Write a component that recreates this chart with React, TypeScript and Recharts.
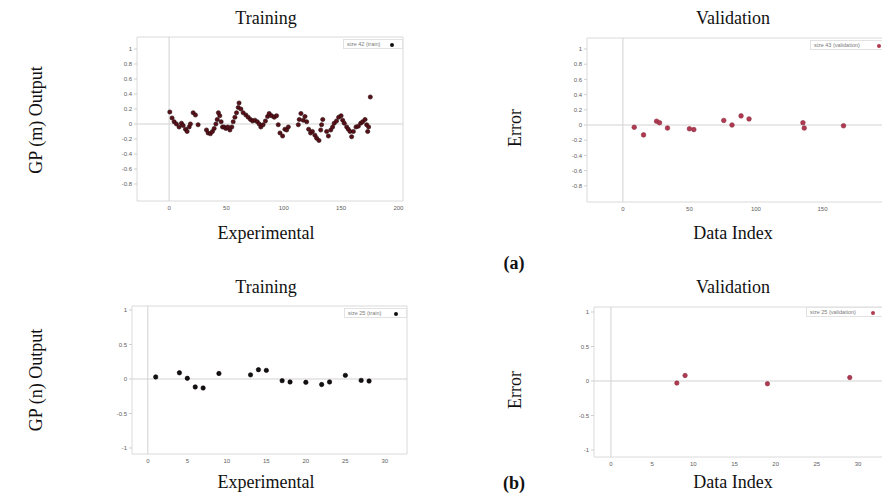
import React from 'react';
import { ScatterChart, Scatter, XAxis, YAxis, ReferenceLine, ReferenceArea } from 'recharts';

// (a) GP (m) – training
const trainMX = [0.6, 2.6, 4.4, 6.4, 8.7, 10.8, 12.2, 14.3, 15.7, 17.5, 18.6, 21, 23, 25.3, 32.6, 34, 36, 37.8, 39.3, 40.8, 42, 43, 44.2, 45.4, 46.6, 48, 49.5, 51.2, 53, 54.7, 55.9, 57.4, 58.8, 60.3, 61, 62.6, 64.6, 67, 69, 71, 72.8, 74.8, 76.9, 78.6, 80, 82, 84, 85.9, 87.3, 89.4, 91.7, 93.7, 95.2, 96.7, 99, 101, 102.5, 104, 112.7, 113.5, 115, 117, 118.5, 120, 121.7, 123.4, 125, 127.2, 128.7, 130.7, 132.2, 133, 134, 137.4, 138.9, 141, 142.6, 144, 146, 147.9, 150, 151.4, 152.8, 154.9, 156.3, 157.8, 159.2, 160.7, 163, 165, 167.1, 168.8, 170.9, 172.3, 173.2, 174, 175.5];
const trainMY = [0.16, 0.08, 0.03, 0, -0.04, 0.01, -0.02, -0.07, -0.1, -0.04, 0, 0.15, 0.12, -0.01, -0.08, -0.12, -0.13, -0.1, -0.06, 0, 0.06, 0.15, 0.11, 0.03, -0.04, -0.04, -0.06, -0.04, -0.08, -0.04, 0.03, 0.09, 0.15, 0.22, 0.28, 0.2, 0.15, 0.12, 0.09, 0.06, 0.04, 0.05, 0.03, 0, -0.04, -0.01, 0.04, 0.1, 0.14, 0.11, 0.09, 0.11, -0.01, -0.12, -0.16, -0.07, -0.08, -0.04, -0.01, 0.06, 0.14, 0.05, 0.1, 0.03, -0.07, -0.12, -0.1, -0.15, -0.19, -0.22, -0.08, -0.01, 0.06, -0.1, -0.16, -0.08, -0.04, 0.01, 0.04, 0.09, 0.11, 0.05, 0.01, -0.04, -0.07, -0.1, -0.17, -0.1, -0.04, -0.03, 0.01, 0.03, 0.06, -0.01, -0.1, -0.04, 0.36];

// (a) GP (m) – validation
const validMX = [8.5, 15.5, 25.3, 27.5, 33.5, 50, 53.3, 75.8, 82, 88.8, 94.8, 135.3, 136.3, 165.8];
const validMY = [-0.03, -0.13, 0.05, 0.03, -0.04, -0.05, -0.06, 0.06, 0, 0.12, 0.08, 0.03, -0.04, -0.01];

// (b) GP (n) – training
const trainNX = [1, 4, 5, 6, 7, 9, 13, 14, 15, 17, 18, 20, 22, 23, 25, 27, 28];
const trainNY = [0.03, 0.09, 0.01, -0.115, -0.13, 0.08, 0.06, 0.135, 0.125, -0.024, -0.043, -0.048, -0.08, -0.043, 0.053, -0.02, -0.03];

// (b) GP (n) – validation
const validNX = [8, 9, 19, 29];
const validNY = [-0.03, 0.08, -0.04, 0.05];

const ticksA_X = [0, 50, 100, 150, 200];
const ticksA_XValid = [0, 50, 100, 150];
const ticksA_Y = [-0.8, -0.6, -0.4, -0.2, 0, 0.2, 0.4, 0.6, 0.8, 1];
const ticksB_X = [0, 5, 10, 15, 20, 25, 30];
const ticksB_Y = [-1, -0.5, 0, 0.5, 1];

const zip = (xs: number[], ys: number[]) => xs.map((x, i) => ({ x, y: ys[i] }));

const TRAIN_M = '#5a1019';
const TRAIN_N = '#151012';
const VALID = '#b03a52';
const SERIF = '"Liberation Serif", "Times New Roman", serif';
const SANS = '"Liberation Sans", Arial, sans-serif';

interface PanelProps {
  frame: { x: number; y: number; w: number; h: number };
  xDomain: [number, number];
  yDomain: [number, number];
  xTicks: number[];
  yTicks: number[];
  data: { x: number; y: number }[];
  fill: string;
  stroke: string;
  r: number;
}

const Panel: React.FC<PanelProps> = ({ frame, xDomain, yDomain, xTicks, yTicks, data, fill, stroke, r }) => {
  const tick = { fontSize: 6, fill: '#5e5e5e', fontFamily: SANS };
  return (
    <div style={{ position: 'absolute', left: frame.x - 40, top: frame.y - 5 }}>
      <ScatterChart width={frame.w + 45} height={frame.h + 25} margin={{ top: 5, right: 5, left: 0, bottom: 0 }}>
        <ReferenceArea
          x1={xDomain[0]}
          x2={xDomain[1]}
          y1={yDomain[0]}
          y2={yDomain[1]}
          fill="none"
          stroke="#dadada"
          strokeWidth={1}
          fillOpacity={0}
        />
        <ReferenceLine x={0} stroke="#d2d2d2" />
        <ReferenceLine y={0} stroke="#d2d2d2" />
        <XAxis
          type="number"
          dataKey="x"
          domain={xDomain}
          ticks={xTicks}
          allowDataOverflow
          height={20}
          axisLine={false}
          tickLine={false}
          tickSize={3}
          tickMargin={2}
          tick={tick}
        />
        <YAxis
          type="number"
          dataKey="y"
          domain={yDomain}
          ticks={yTicks}
          allowDataOverflow
          width={40}
          axisLine={false}
          tickLine={{ stroke: '#cfcfcf' }}
          tickSize={3}
          tickMargin={2}
          tick={tick}
        />
        <Scatter
          data={data}
          isAnimationActive={false}
          shape={(p: any) => <circle cx={p.cx} cy={p.cy} r={r} fill={fill} stroke={stroke} strokeWidth={0.6} />}
        />
      </ScatterChart>
    </div>
  );
};

const LegendBox: React.FC<{ x: number; y: number; w: number; dotRight: number; label: string; color: string }> = ({ x, y, w, dotRight, label, color }) => (
  <div
    style={{
      position: 'absolute',
      left: x,
      top: y,
      width: w,
      height: 10,
      border: '1px solid #e2e2e2',
      background: '#fff',
      fontFamily: SANS,
      fontSize: 5.5,
      color: '#7a7a7a',
      display: 'flex',
      alignItems: 'center',
      boxSizing: 'border-box',
      paddingLeft: 3,
    }}
  >
    <span>{label}</span>
    <span style={{ position: 'absolute', right: dotRight, top: 2.5, width: 4, height: 4, borderRadius: 2, background: color }} />
  </div>
);

const Label: React.FC<{ x: number; y: number; text: string; rotate?: boolean; bold?: boolean }> = ({ x, y, text, rotate, bold }) => (
  <div
    style={{
      position: 'absolute',
      left: x,
      top: y,
      transform: `translate(-50%, -50%)${rotate ? ' rotate(-90deg)' : ''}`,
      whiteSpace: 'nowrap',
      fontFamily: SERIF,
      fontSize: 18,
      fontWeight: bold ? 700 : 400,
      color: '#111',
      lineHeight: 1,
    }}
  >
    {text}
  </div>
);

export default function App() {
  return (
    <div style={{ position: 'absolute', left: 0, top: 0, width: 882, height: 493, overflow: 'hidden', background: '#fff' }}>
      <Panel
        frame={{ x: 137, y: 37, w: 266, h: 164 }}
        xDomain={[-28, 204]}
        yDomain={[-1.027, 1.16]}
        xTicks={ticksA_X}
        yTicks={ticksA_Y}
        data={zip(trainMX, trainMY)}
        fill={TRAIN_M}
        stroke="#220608"
        r={2.1}
      />
      <Panel
        frame={{ x: 587, y: 38, w: 302, h: 164 }}
        xDomain={[-27, 200]}
        yDomain={[-1.013, 1.145]}
        xTicks={ticksA_XValid}
        yTicks={ticksA_Y}
        data={zip(validMX, validMY)}
        fill={VALID}
        stroke="#8a2a3c"
        r={2.3}
      />
      <Panel
        frame={{ x: 132, y: 306, w: 275, h: 148 }}
        xDomain={[-2, 32.8]}
        yDomain={[-1.087, 1.058]}
        xTicks={ticksB_X}
        yTicks={ticksB_Y}
        data={zip(trainNX, trainNY)}
        fill={TRAIN_N}
        stroke="#000"
        r={2.2}
      />
      <Panel
        frame={{ x: 594, y: 307, w: 292, h: 150 }}
        xDomain={[-2.06, 33.4]}
        yDomain={[-1.101, 1.072]}
        xTicks={ticksB_X}
        yTicks={ticksB_Y}
        data={zip(validNX, validNY)}
        fill={VALID}
        stroke="#8a2a3c"
        r={2.2}
      />

      <LegendBox x={343} y={39} w={60} dotRight={8} label="size 42 (train)" color="#111" />
      <LegendBox x={810} y={40} w={76} dotRight={4} label="size 43 (validation)" color={VALID} />
      <LegendBox x={344} y={308} w={63} dotRight={8} label="size 25 (train)" color="#111" />
      <LegendBox x={806} y={307} w={78} dotRight={8} label="size 25 (validation)" color={VALID} />

      <Label x={266} y={18} text="Training" />
      <Label x={733} y={18} text="Validation" />
      <Label x={266} y={233} text="Experimental" />
      <Label x={733} y={233} text="Data Index" />
      <Label x={514} y={263} text="(a)" bold />
      <Label x={266} y={287} text="Training" />
      <Label x={733} y={287} text="Validation" />
      <Label x={266} y={482} text="Experimental" />
      <Label x={733} y={482} text="Data Index" />
      <Label x={514} y={483} text="(b)" bold />

      <Label x={36} y={120} text="GP (m) Output" rotate />
      <Label x={515} y={128} text="Error" rotate />
      <Label x={36} y={380} text="GP (n) Output" rotate />
      <Label x={515} y={390} text="Error" rotate />
    </div>
  );
}
